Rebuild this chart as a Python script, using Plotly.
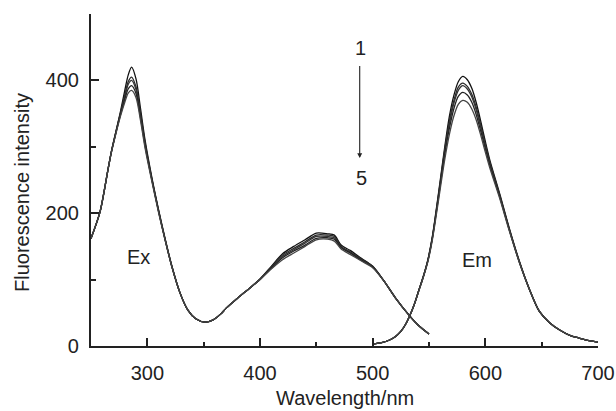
import plotly.graph_objects as go

# ---- data ----
ex_wavelength = [250, 258, 265, 268, 272, 276, 280, 283, 286, 290, 294, 298, 304, 310, 316, 322, 329, 336, 343,
                 351, 358, 365, 370, 380, 390, 400, 410, 420, 430, 440, 450, 460, 466, 472, 480, 490,
                 500, 510, 520, 533, 540, 550]
ex_1 = [162, 202, 265, 292, 322, 352, 385, 408, 420, 402, 357, 310, 254, 205, 160, 119, 80, 54, 41,
        36, 39, 48, 57, 72, 86, 101, 120, 139, 150, 160, 170, 169, 167, 152, 144, 132,
        120, 98, 73, 45, 32, 18]
ex_2 = [162, 202, 265, 292, 322, 350, 378, 398, 405, 390, 350, 306, 252, 204, 159, 119, 80, 54, 41,
        36, 39, 48, 57, 72, 86, 101, 119, 137, 147, 157, 167, 167, 165, 150, 142, 131,
        120, 98, 73, 45, 32, 18]
ex_3 = [162, 202, 265, 292, 321, 349, 375, 394, 400, 386, 347, 304, 251, 203, 159, 118, 80, 54, 41,
        36, 39, 48, 57, 72, 86, 100, 118, 135, 145, 155, 165, 165, 163, 149, 141, 130,
        119, 98, 73, 45, 32, 18]
ex_4 = [162, 202, 265, 291, 320, 347, 371, 387, 392, 380, 343, 301, 250, 202, 158, 118, 80, 54, 41,
        36, 39, 48, 57, 72, 86, 100, 117, 133, 143, 152, 162, 163, 161, 148, 140, 129,
        119, 98, 73, 45, 32, 18]
ex_5 = [162, 202, 265, 291, 319, 345, 367, 381, 385, 374, 339, 298, 248, 201, 158, 118, 80, 54, 41,
        36, 39, 48, 57, 72, 86, 100, 116, 130, 140, 150, 160, 161, 158, 146, 138, 128,
        118, 98, 73, 45, 32, 18]

em_wavelength = [500, 508, 515, 520, 525, 529, 533, 537, 541, 545, 549, 553, 556, 560, 564, 568, 572, 576, 580,
                 584, 588, 592, 596, 600, 604, 613, 621, 630, 639, 648, 657, 666, 675, 683, 692, 700]
em_1 = [3, 5, 9, 14, 22, 32, 46, 63, 84, 105, 130, 165, 200, 250, 300, 345, 377, 398, 406,
        401, 388, 366, 338, 308, 280, 228, 179, 129, 86, 52, 35, 24, 16, 12, 8, 6]
em_2 = [3, 5, 9, 14, 22, 32, 46, 63, 84, 105, 129, 164, 198, 247, 296, 338, 369, 390, 396,
        391, 379, 359, 332, 304, 277, 226, 178, 128, 86, 52, 35, 24, 16, 12, 8, 6]
em_3 = [3, 5, 9, 14, 22, 32, 46, 63, 84, 105, 129, 163, 197, 245, 293, 334, 365, 385, 392,
        387, 375, 355, 329, 302, 275, 225, 177, 128, 86, 52, 35, 24, 16, 12, 8, 6]
em_4 = [3, 5, 9, 14, 22, 32, 46, 63, 84, 104, 128, 162, 195, 242, 288, 327, 357, 376, 382,
        378, 367, 348, 323, 297, 272, 223, 176, 127, 86, 52, 35, 24, 16, 12, 8, 6]
em_5 = [3, 5, 9, 14, 22, 32, 46, 63, 83, 104, 127, 160, 192, 237, 281, 318, 346, 364, 370,
        367, 357, 340, 317, 292, 268, 221, 175, 127, 86, 52, 35, 24, 16, 12, 8, 6]

x_ticks = [300, 400, 500, 600, 700]
y_ticks = [0, 200, 400]

FONT = "Liberation Sans, Arial, Helvetica, sans-serif"
line_colors = ["#111111", "#2a2a2a", "#333333", "#222222", "#444444"]

fig = go.Figure()
for i, ys in enumerate([ex_1, ex_2, ex_3, ex_4, ex_5]):
    fig.add_trace(go.Scatter(x=ex_wavelength, y=ys, mode="lines",
                             line=dict(color=line_colors[i], width=1.3, shape="spline", smoothing=0.8),
                             showlegend=False, hoverinfo="skip"))
for i, ys in enumerate([em_1, em_2, em_3, em_4, em_5]):
    fig.add_trace(go.Scatter(x=em_wavelength, y=ys, mode="lines",
                             line=dict(color=line_colors[i], width=1.3, shape="spline", smoothing=0.8),
                             showlegend=False, hoverinfo="skip"))

fig.update_layout(
    width=616, height=411,
    margin=dict(l=91, r=18, t=14, b=65, autoexpand=False),
    paper_bgcolor="white", plot_bgcolor="white",
    font=dict(family=FONT, size=20, color="#222222"),
    xaxis=dict(range=[250, 700], tickmode="array", tickvals=x_ticks, ticktext=[str(v) for v in x_ticks],
               ticks="inside", ticklen=8, tickwidth=1.5, tickcolor="#222",
               minor=dict(dtick=50, tick0=0, ticks="inside", ticklen=4, tickwidth=1.5, tickcolor="#222"),
               showline=True, linecolor="#222", linewidth=2.2, showgrid=False, zeroline=False,
               ticklabelstandoff=8, tickfont=dict(size=20), automargin=False),
    yaxis=dict(range=[0, 500], tickmode="array", tickvals=y_ticks, ticktext=[str(v) for v in y_ticks],
               ticks="inside", ticklen=8, tickwidth=1.5, tickcolor="#222",
               minor=dict(dtick=100, tick0=0, ticks="inside", ticklen=5, tickwidth=1.5, tickcolor="#222"),
               showline=True, linecolor="#222", linewidth=2.2, showgrid=False, zeroline=False,
               ticklabelstandoff=6, tickfont=dict(size=20), automargin=False),
)

fig.add_annotation(text="Wavelength/nm", xref="paper", yref="paper", x=0.5, y=-0.157,
                   xanchor="center", yanchor="middle", showarrow=False, font=dict(size=20))
fig.add_annotation(text="Fluorescence intensity", xref="paper", yref="paper", x=-0.136, y=0.461,
                   xanchor="center", yanchor="middle", textangle=-90, showarrow=False, font=dict(size=20))
fig.add_annotation(text="Ex", x=292, y=134, xref="x", yref="y", showarrow=False, font=dict(size=20))
fig.add_annotation(text="Em", x=593, y=130, xref="x", yref="y", showarrow=False, font=dict(size=20))
fig.add_annotation(text="1", x=489, y=449, xref="x", yref="y", showarrow=False, font=dict(size=20))
fig.add_annotation(text="5", x=490.5, y=253, xref="x", yref="y", showarrow=False, font=dict(size=20))
fig.add_annotation(x=488.5, y=283, ax=488.5, ay=424, xref="x", yref="y", axref="x", ayref="y",
                   text="", showarrow=True, arrowhead=2, arrowsize=0.9, arrowwidth=1.1, arrowcolor="#222")

fig.write_html("out.html", config={"displayModeBar": False},
               post_script="document.body.style.margin='0px';document.body.style.padding='0px';")
